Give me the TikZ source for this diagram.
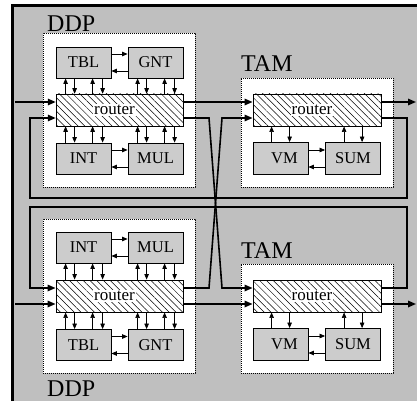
\documentclass[tikz,border=0pt]{standalone}
\usepackage{fontspec}
\setmainfont{Liberation Serif}
\usetikzlibrary{arrows.meta,patterns.meta,calc}
\tikzset{
 unit/.style={draw, line width=0.8pt, fill=black!20, minimum width=55pt, minimum height=31pt, inner sep=0pt, font=\fontsize{16.5}{18}\selectfont},
 routerbox/.style={draw, line width=0.9pt, preaction={fill=white}, pattern={Lines[angle=-45,distance=4.8pt,line width=0.5pt]}, minimum width=127pt, minimum height=32pt, inner sep=0pt},
 rtext/.style={fill=white, inner sep=1pt, font=\fontsize{17}{18}\selectfont},
 module/.style={draw, dash pattern=on 0.8pt off 1.2pt, line width=0.8pt, fill=white, inner sep=0pt, minimum width=152pt},
 title/.style={anchor=base west, inner sep=0pt, font=\fontsize{24}{26}\selectfont},
 sarr/.style={line width=0.7pt, -{Triangle[length=5.5pt,width=4.5pt]}},
 sarrb/.style={line width=0.7pt, {Triangle[length=5.5pt,width=4.5pt]}-},
 bus/.style={line width=1.6pt, -{Triangle[length=8pt,width=6.5pt]}},
}
\begin{document}
\begin{tikzpicture}[x=1pt,y=-1pt]
\useasboundingbox (0,0) rectangle (417,401);
\fill[black!25] (12,5) rectangle (417,401);
\draw[line width=2.5pt] (12.5,401) -- (12.5,5.5) -- (417,5.5);

% modules
\node[module, minimum height=154pt] (ddpA) at (119,110) {};
\node[module, minimum height=109pt] (tamA) at (317,132.5) {};
\node[module, minimum height=154pt] (ddpB) at (119,296) {};
\node[module, minimum height=109pt] (tamB) at (317,318.5) {};

\node[title] (ddpAt) at (47,32) {DDP};
\node[title] (tamAt) at (241,72) {TAM};
\node[title] (tamBt) at (241,258) {TAM};
\node[title] (ddpBt) at (47,396) {DDP};

% top DDP
\node[unit] (tblA) at (83.5,62.5) {TBL};
\node[unit] (gntA) at (155.5,62.5) {GNT};
\node[routerbox] (rA) at (119.5,110) {};
\node[rtext] (rAt) at ([xshift=-5pt]rA.center) {router};
\node[unit] (intA) at (83.5,158.5) {INT};
\node[unit] (mulA) at (155.5,158.5) {MUL};

% bottom DDP
\node[unit] (intB) at (83.5,247.5) {INT};
\node[unit] (mulB) at (155.5,247.5) {MUL};
\node[routerbox] (rB) at (119.5,296) {};
\node[rtext] (rBt) at ([xshift=-5pt]rB.center) {router};
\node[unit] (tblB) at (83.5,345) {TBL};
\node[unit] (gntB) at (155.5,345) {GNT};

% top TAM
\node[routerbox, minimum width=128pt] (rC) at (317,110) {};
\node[rtext] (rCt) at ([xshift=-5pt]rC.center) {router};
\node[unit, minimum height=32pt] (vmC) at (280.5,158.5) {\hspace*{8pt}VM};
\node[unit, minimum height=32pt] (sumC) at (353,158.5) {SUM};

% bottom TAM
\node[routerbox, minimum width=128pt] (rD) at (317,296) {};
\node[rtext] (rDt) at ([xshift=-5pt]rD.center) {router};
\node[unit, minimum height=32pt] (vmD) at (280.5,344.5) {\hspace*{8pt}VM};
\node[unit, minimum height=32pt] (sumD) at (353,344.5) {SUM};

% horizontal unit arrows
\foreach \a/\b in {tblA/gntA,intA/mulA,intB/mulB,tblB/gntB,vmC/sumC,vmD/sumD}{
 \draw[sarr] ([yshift=8.5pt]\a.east) -- ([yshift=8.5pt]\b.west);
 \draw[sarr] ([yshift=-8.5pt]\b.west) -- ([yshift=-8.5pt]\a.east);
}

% vertical arrows, units above a router
\foreach \u/\r in {tblA/rA,gntA/rA,intB/rB,mulB/rB}{
 \foreach \o/\s in {10/sarrb,19/sarr,37/sarrb,47/sarr}{
  \draw[\s] let \p1=(\u.south west), \p2=(\r.north) in (\x1+\o pt,\y1) -- (\x1+\o pt,\y2);
 }
}
% vertical arrows, units below a router
\foreach \u/\r in {intA/rA,mulA/rA,tblB/rB,gntB/rB}{
 \foreach \o/\s in {10/sarr,19/sarrb,37/sarr,47/sarrb}{
  \draw[\s] let \p1=(\u.north west), \p2=(\r.south) in (\x1+\o pt,\y1) -- (\x1+\o pt,\y2);
 }
}
\foreach \u/\r in {vmC/rC,sumC/rC,vmD/rD,sumD/rD}{
 \foreach \o/\s in {19/sarr,37/sarrb}{
  \draw[\s] let \p1=(\u.north west), \p2=(\r.south) in (\x1+\o pt,\y1) -- (\x1+\o pt,\y2);
 }
}

% connectors
\coordinate (inA) at (15,102);
\coordinate (inB) at (15,304);
\coordinate (outC) at (416,102);
\coordinate (outD) at (416,304);
\coordinate (xA1) at (209,118);
\coordinate (xA2) at (222,288);
\coordinate (xB1) at (209,288);
\coordinate (xB2) at (222,118);
\coordinate (lC1) at (407,118);
\coordinate (lC2) at (407,198);
\coordinate (lC3) at (30,198);
\coordinate (lC4) at (30,118);
\coordinate (lD1) at (407,288);
\coordinate (lD2) at (407,207);
\coordinate (lD3) at (30,207);
\coordinate (lD4) at (30,288);

\draw[bus] (inA) -- ([yshift=8pt]rA.west);
\draw[bus] (inB) -- ([yshift=-8pt]rB.west);
\draw[bus] ([yshift=8pt]rA.east) -- ([yshift=8pt]rC.west);
\draw[bus] ([yshift=-8pt]rB.east) -- ([yshift=-8pt]rD.west);
\draw[bus] ([yshift=-8pt]rA.east) -- (xA1) -- (xA2) -- ([yshift=8pt]rD.west);
\draw[bus] ([yshift=8pt]rB.east) -- (xB1) -- (xB2) -- ([yshift=-8pt]rC.west);
\draw[bus] ([yshift=8pt]rC.east) -- (outC);
\draw[bus] ([yshift=-8pt]rD.east) -- (outD);
\draw[bus] ([yshift=-8pt]rC.east) -- (lC1) -- (lC2) -- (lC3) -- (lC4) -- ([yshift=-8pt]rA.west);
\draw[bus] ([yshift=8pt]rD.east) -- (lD1) -- (lD2) -- (lD3) -- (lD4) -- ([yshift=8pt]rB.west);
\end{tikzpicture}
\end{document}
